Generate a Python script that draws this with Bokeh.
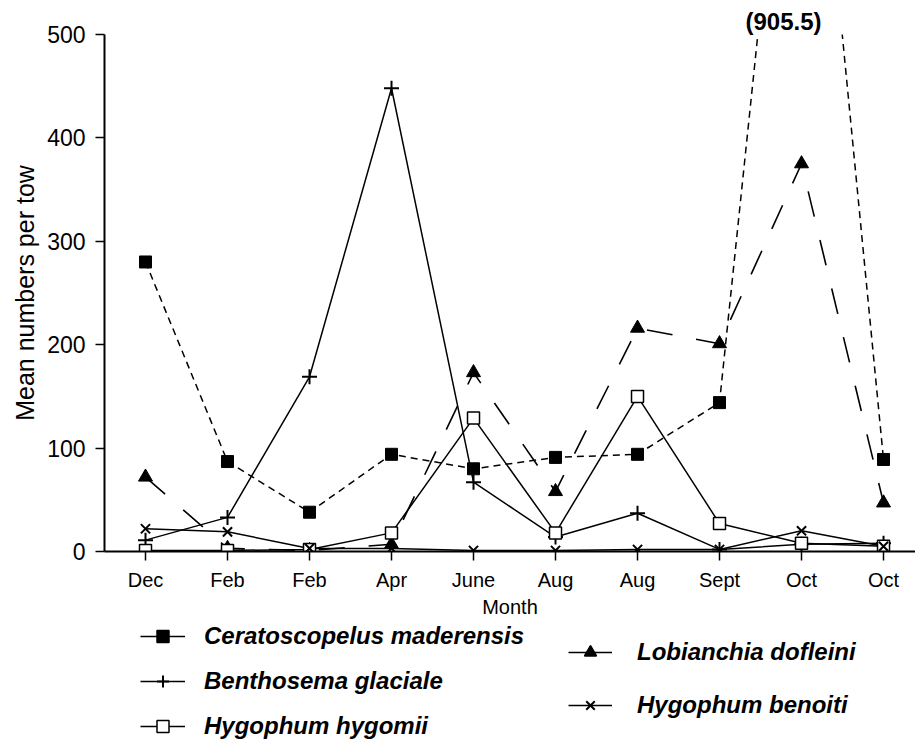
from bokeh.plotting import figure
from bokeh.layouts import column
from bokeh.models import (ColumnDataSource, Legend, LegendItem, Range1d,
                          FixedTicker)
from bokeh.embed import file_html
from bokeh.resources import INLINE

# Sampling months (two cruises in some months)
months = ["Dec", "Feb", "Feb", "Apr", "June", "Aug", "Aug", "Sept", "Oct", "Oct"]

# Mean numbers per tow for each species
ceratoscopelus = [280, 87, 38, 94, 80, 91, 94, 144, 905.5, 89]
benthosema = [11, 33, 169, 448, 67, 14, 37, 2, 7, 8]
hygophum_hygomii = [1, 1, 2, 18, 129, 18, 150, 27, 8, 5]
lobianchia = [72, 3, 1, 7, 173, 58, 216, 201, 375, 47]
hygophum_benoiti = [22, 19, 3, 3, 1, 1, 2, 2, 20, 5]

y_ticks = [0, 100, 200, 300, 400, 500]

idx = list(range(len(months)))
FONT = "Liberation Sans"
W = 915
MAIN_H = 620
LEG_H = 752 - MAIN_H

p = figure(width=W, height=MAIN_H, output_backend="svg", toolbar_location=None,
           x_range=Range1d(-0.5, 9.39), y_range=Range1d(0, 500),
           min_border_left=104, min_border_right=0, min_border_top=34,
           min_border_bottom=MAIN_H - 552)
p.outline_line_color = None
p.xgrid.visible = False
p.ygrid.visible = False

def src(vals):
    return ColumnDataSource(dict(x=idx, y=vals))

# series lines
p.line("x", "y", source=src(lobianchia), line_color="black", line_width=1.6,
       line_dash="26 24")
p.line("x", "y", source=src(ceratoscopelus), line_color="black", line_width=1.5,
       line_dash="7 5")
p.line("x", "y", source=src(benthosema), line_color="black", line_width=1.5)
p.line("x", "y", source=src(hygophum_hygomii), line_color="black", line_width=1.5)
p.line("x", "y", source=src(hygophum_benoiti), line_color="black", line_width=1.5)

# series markers
p.scatter("x", "y", source=src(lobianchia), marker="triangle", size=14,
          fill_color="black", line_color="black")
p.scatter("x", "y", source=src(ceratoscopelus), marker="square", size=12,
          fill_color="black", line_color="black")
p.scatter("x", "y", source=src(benthosema), marker="cross", size=15,
          line_color="black", line_width=2)
p.scatter("x", "y", source=src(hygophum_hygomii), marker="square", size=12,
          fill_color="white", line_color="black", line_width=1.5)
p.scatter("x", "y", source=src(hygophum_benoiti), marker="x", size=13,
          line_color="black", line_width=2)

# the October peak runs off the scale: its value is printed above it
peak = max(ceratoscopelus)
p.title.text = f"({peak})"
p.title.align = "left"
p.title.offset = 641
p.title.standoff = 0
p.title.text_font = FONT
p.title.text_font_style = "bold"
p.title.text_font_size = "24px"
p.title.text_color = "black"
p.title.vertical_align = "bottom"

# axes
p.xaxis.ticker = FixedTicker(ticks=idx)
p.xaxis.major_label_overrides = {i: m for i, m in enumerate(months)}
p.xaxis.axis_label = "Month"
p.yaxis.ticker = FixedTicker(ticks=y_ticks)
p.yaxis.bounds = (0, 500)
p.yaxis.axis_label = "Mean numbers per tow"
for ax in (p.xaxis, p.yaxis):
    ax.axis_line_width = 2
    ax.axis_line_color = "black"
    ax.major_tick_line_color = "black"
    ax.major_tick_line_width = 1.5
    ax.major_tick_in = 0
    ax.major_tick_out = 9
    ax.minor_tick_line_color = None
    ax.major_label_text_font = FONT
    ax.axis_label_text_font = FONT
    ax.axis_label_text_font_style = "normal"
    ax.major_label_text_color = "black"
    ax.axis_label_text_color = "black"
p.xaxis.major_label_text_font_size = "20px"
p.xaxis.axis_label_text_font_size = "20px"
p.xaxis.major_label_standoff = 8
p.xaxis.axis_label_standoff = 2
p.yaxis.major_label_text_font_size = "23px"
p.yaxis.axis_label_text_font_size = "25px"
p.yaxis.major_label_standoff = 10
p.yaxis.axis_label_standoff = 5

# legend panel underneath the chart; its key renderers hold the series but
# sit outside this panel's ranges, so only the legend keys show
lg = figure(width=W, height=LEG_H, output_backend="svg", toolbar_location=None,
            x_range=Range1d(100, 101), y_range=Range1d(5000, 5001),
            min_border=0, x_axis_type=None, y_axis_type=None)
lg.outline_line_color = None
lg.xgrid.visible = False
lg.ygrid.visible = False

def key(vals, marker, fill, lw=1.5):
    s = src(vals)
    ln = lg.line("x", "y", source=s, line_color="black", line_width=1.5)
    mk = lg.scatter("x", "y", source=s, marker=marker, fill_color=fill,
                    line_color="black", line_width=lw)
    return [ln, mk]

left_items = [
    LegendItem(label="Ceratoscopelus maderensis",
               renderers=key(ceratoscopelus, "square", "black")),
    LegendItem(label="Benthosema glaciale",
               renderers=key(benthosema, "cross", "black", 2)),
    LegendItem(label="Hygophum hygomii",
               renderers=key(hygophum_hygomii, "square", "white")),
]
right_items = [
    LegendItem(label="Lobianchia dofleini",
               renderers=key(lobianchia, "triangle", "black")),
    LegendItem(label="Hygophum benoiti",
               renderers=key(hygophum_benoiti, "x", "black", 2)),
]

def make_legend(items, loc, gw, spacing, standoff):
    return Legend(items=items, location=loc, glyph_width=gw, glyph_height=30,
                  spacing=spacing, padding=0, margin=0, label_standoff=standoff,
                  label_text_font=FONT, label_text_font_style="bold italic",
                  label_text_font_size="24px", label_text_color="black",
                  background_fill_alpha=0, border_line_alpha=0)

lg.add_layout(make_legend(left_items, (36, 11), 45, 15, 19))
lg.add_layout(make_legend(right_items, (464, 32), 44, 23, 25))

layout = column(p, lg, spacing=0)
open("out.html", "w").write(file_html(layout, INLINE))
